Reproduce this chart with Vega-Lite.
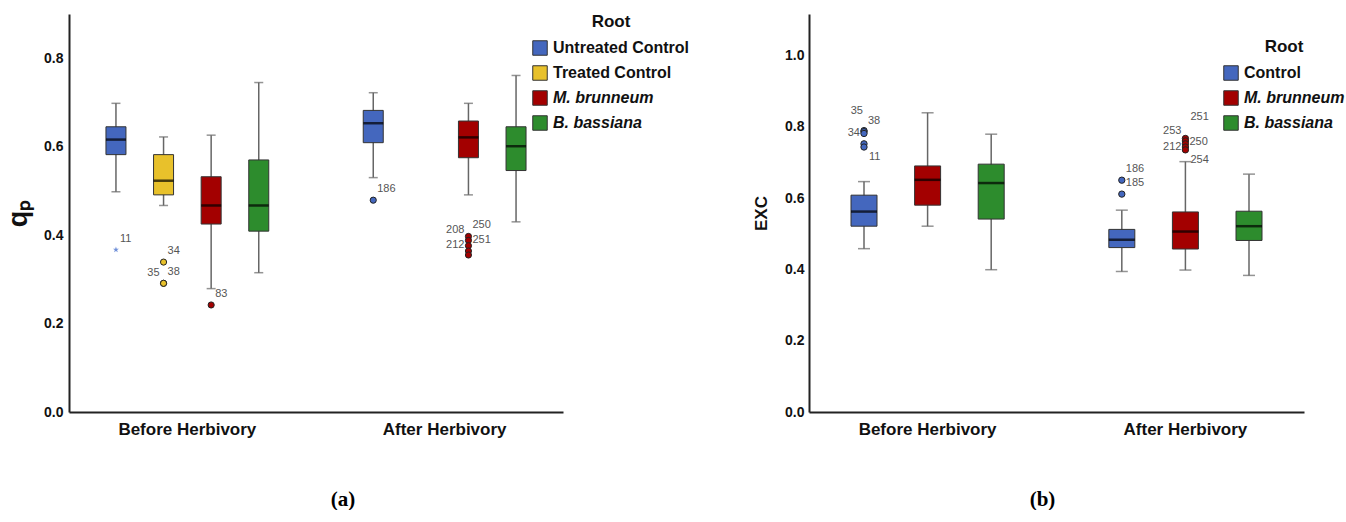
{
  "$schema": "https://vega.github.io/schema/vega-lite/v6.json",
  "padding": {"left": 4, "top": 14, "right": 0, "bottom": 0},
  "spacing": 246,
  "bounds": "flush",
  "background": "white",
  "config": {
    "view": {"stroke": null},
    "font": "Liberation Sans",
    "axis": {"grid": false, "ticks": false, "domainColor": "#222", "domainWidth": 2, "labelFont": "Liberation Sans", "labelFontWeight": "bold", "labelColor": "#111", "titleColor": "#111"},
    "legend": {"titleFont": "Liberation Sans", "labelFont": "Liberation Sans"}
  },
  "resolve": {"scale": {"color": "independent", "fill": "independent", "x": "independent", "y": "independent", "xOffset": "independent"}, "legend": {"color": "independent"}},
  "datasets": {
    "boxA": [
      {"time": "Before Herbivory", "root": "Untreated Control", "lo": 0.498, "q1": 0.582, "med": 0.616, "q3": 0.645, "hi": 0.698},
      {"time": "Before Herbivory", "root": "Treated Control", "lo": 0.467, "q1": 0.491, "med": 0.523, "q3": 0.582, "hi": 0.622},
      {"time": "Before Herbivory", "root": "M. brunneum", "lo": 0.279, "q1": 0.425, "med": 0.467, "q3": 0.532, "hi": 0.626},
      {"time": "Before Herbivory", "root": "B. bassiana", "lo": 0.315, "q1": 0.409, "med": 0.467, "q3": 0.570, "hi": 0.745},
      {"time": "After Herbivory", "root": "Untreated Control", "lo": 0.530, "q1": 0.609, "med": 0.653, "q3": 0.682, "hi": 0.722},
      {"time": "After Herbivory", "root": "M. brunneum", "lo": 0.491, "q1": 0.575, "med": 0.621, "q3": 0.658, "hi": 0.698},
      {"time": "After Herbivory", "root": "B. bassiana", "lo": 0.430, "q1": 0.546, "med": 0.601, "q3": 0.645, "hi": 0.761}
    ],
    "outA": [
      {"time": "Before Herbivory", "root": "Untreated Control", "value": 0.367, "kind": "extreme", "label": "11", "pos": "ur"},
      {"time": "Before Herbivory", "root": "Treated Control", "value": 0.339, "kind": "outlier", "label": "34", "pos": "ur"},
      {"time": "Before Herbivory", "root": "Treated Control", "value": 0.291, "kind": "outlier", "label": "38", "pos": "ur"},
      {"time": "Before Herbivory", "root": "Treated Control", "value": 0.291, "kind": "outlier", "label": "35", "pos": "ul"},
      {"time": "Before Herbivory", "root": "M. brunneum", "value": 0.242, "kind": "outlier", "label": "83", "pos": "ur"},
      {"time": "After Herbivory", "root": "Untreated Control", "value": 0.479, "kind": "outlier", "label": "186", "pos": "ur"},
      {"time": "After Herbivory", "root": "M. brunneum", "value": 0.397, "kind": "outlier", "label": "250", "pos": "ur"},
      {"time": "After Herbivory", "root": "M. brunneum", "value": 0.388, "kind": "outlier", "label": "208", "pos": "ul"},
      {"time": "After Herbivory", "root": "M. brunneum", "value": 0.376, "kind": "outlier", "label": "", "pos": "none"},
      {"time": "After Herbivory", "root": "M. brunneum", "value": 0.364, "kind": "outlier", "label": "251", "pos": "ur"},
      {"time": "After Herbivory", "root": "M. brunneum", "value": 0.355, "kind": "outlier", "label": "212", "pos": "ul"}
    ],
    "boxB": [
      {"time": "Before Herbivory", "root": "Control", "lo": 0.458, "q1": 0.521, "med": 0.562, "q3": 0.608, "hi": 0.646},
      {"time": "Before Herbivory", "root": "M. brunneum", "lo": 0.521, "q1": 0.580, "med": 0.651, "q3": 0.690, "hi": 0.839},
      {"time": "Before Herbivory", "root": "B. bassiana", "lo": 0.399, "q1": 0.541, "med": 0.642, "q3": 0.695, "hi": 0.779},
      {"time": "After Herbivory", "root": "Control", "lo": 0.394, "q1": 0.461, "med": 0.483, "q3": 0.512, "hi": 0.566},
      {"time": "After Herbivory", "root": "M. brunneum", "lo": 0.398, "q1": 0.457, "med": 0.506, "q3": 0.561, "hi": 0.702},
      {"time": "After Herbivory", "root": "B. bassiana", "lo": 0.383, "q1": 0.481, "med": 0.521, "q3": 0.563, "hi": 0.667}
    ],
    "outB": [
      {"time": "Before Herbivory", "root": "Control", "value": 0.789, "kind": "outlier", "label": "35", "pos": "uul"},
      {"time": "Before Herbivory", "root": "Control", "value": 0.786, "kind": "outlier", "label": "38", "pos": "ur"},
      {"time": "Before Herbivory", "root": "Control", "value": 0.781, "kind": "outlier", "label": "34", "pos": "l"},
      {"time": "Before Herbivory", "root": "Control", "value": 0.752, "kind": "outlier", "label": "", "pos": "none"},
      {"time": "Before Herbivory", "root": "Control", "value": 0.743, "kind": "outlier", "label": "11", "pos": "lr"},
      {"time": "After Herbivory", "root": "Control", "value": 0.650, "kind": "outlier", "label": "186", "pos": "ur"},
      {"time": "After Herbivory", "root": "Control", "value": 0.611, "kind": "outlier", "label": "185", "pos": "ur"},
      {"time": "After Herbivory", "root": "M. brunneum", "value": 0.767, "kind": "outlier", "label": "251", "pos": "uur"},
      {"time": "After Herbivory", "root": "M. brunneum", "value": 0.760, "kind": "outlier", "label": "253", "pos": "ul"},
      {"time": "After Herbivory", "root": "M. brunneum", "value": 0.752, "kind": "outlier", "label": "250", "pos": "r"},
      {"time": "After Herbivory", "root": "M. brunneum", "value": 0.743, "kind": "outlier", "label": "212", "pos": "l"},
      {"time": "After Herbivory", "root": "M. brunneum", "value": 0.735, "kind": "outlier", "label": "254", "pos": "lr"}
    ]
  },
  "hconcat": [
    {
      "width": 494,
      "height": 398,
      "title": {"text": "(a)", "orient": "bottom", "offset": 52, "dx": 27, "font": "Liberation Serif", "fontSize": 21, "fontWeight": "bold", "color": "#000"},
      "encoding": {
        "x": {"field": "time", "type": "nominal", "scale": {"domain": ["Before Herbivory", "After Herbivory"], "paddingInner": 0.26, "paddingOuter": 0.09}, "axis": {"title": null, "labelAngle": 0, "labelPadding": 9, "labelFontSize": 17}},
        "xOffset": {"field": "root", "type": "nominal", "scale": {"domain": ["Untreated Control", "Treated Control", "M. brunneum", "B. bassiana"], "paddingInner": 0, "paddingOuter": 0}}
      },
      "layer": [
        {
          "data": {"name": "boxA"},
          "mark": {"type": "rule", "color": "#666", "strokeWidth": 1.5},
          "encoding": {
            "y": {"field": "lo", "type": "quantitative", "scale": {"domain": [0, 0.9], "nice": false}, "axis": {"title": "qₚ", "values": [0, 0.2, 0.4, 0.6, 0.8], "format": ".1f", "labelFontSize": 14, "labelPadding": 6, "titleFontSize": 27, "titleFontWeight": "bold", "titlePadding": 11}},
            "y2": {"field": "hi"}
          }
        },
        {
          "data": {"name": "boxA"},
          "mark": {"type": "tick", "orient": "horizontal", "color": "#666", "size": 9, "thickness": 1.5},
          "encoding": {"y": {"field": "lo", "type": "quantitative"}}
        },
        {
          "data": {"name": "boxA"},
          "mark": {"type": "tick", "orient": "horizontal", "color": "#666", "size": 9, "thickness": 1.5},
          "encoding": {"y": {"field": "hi", "type": "quantitative"}}
        },
        {
          "data": {"name": "boxA"},
          "mark": {"type": "bar", "width": 20, "stroke": "#333", "strokeWidth": 1, "opacity": 1},
          "encoding": {
            "y": {"field": "q1", "type": "quantitative"},
            "y2": {"field": "q3"},
            "color": {"field": "root", "type": "nominal", "scale": {"domain": ["Untreated Control", "Treated Control", "M. brunneum", "B. bassiana"], "range": ["#4467BE", "#E8C12B", "#A30000", "#2D8C2D"]},
              "legend": {"title": "Root", "orient": "none", "legendX": 463, "legendY": 0, "titleAnchor": "middle", "titleFontSize": 17, "titleFontWeight": "bold", "titleColor": "#111", "titlePadding": 9, "labelFontSize": 16, "labelFontWeight": "bold", "labelColor": "#111", "symbolType": "square", "symbolSize": 210, "symbolStrokeColor": "#333", "symbolStrokeWidth": 1, "symbolOpacity": 1, "rowPadding": 5, "labelOffset": 5,
                "encode": {"labels": {"update": {"fontStyle": {"signal": "indexof(['M. brunneum','B. bassiana'], datum.label) >= 0 ? 'italic' : 'normal'"}}}}}}
          }
        },
        {
          "data": {"name": "boxA"},
          "mark": {"type": "tick", "orient": "horizontal", "color": "#000", "size": 20, "thickness": 2.5},
          "encoding": {"y": {"field": "med", "type": "quantitative"}}
        },
        {
          "data": {"name": "outA"},
          "transform": [{"filter": "datum.kind === 'outlier'"}],
          "mark": {"type": "point", "filled": true, "size": 38, "stroke": "#222", "strokeWidth": 1, "opacity": 1},
          "encoding": {
            "y": {"field": "value", "type": "quantitative"},
            "fill": {"field": "root", "type": "nominal", "scale": {"domain": ["Untreated Control", "Treated Control", "M. brunneum", "B. bassiana"], "range": ["#4467BE", "#E8C12B", "#A30000", "#2D8C2D"]}, "legend": null}
          }
        },
        {
          "data": {"name": "outA"},
          "transform": [{"filter": "datum.kind === 'extreme'"}],
          "mark": {"type": "point", "filled": true, "size": 40, "color": "#6F8FD8", "opacity": 1, "shape": "M0,-1L0.22,-0.31L0.95,-0.31L0.36,0.12L0.59,0.81L0,0.38L-0.59,0.81L-0.36,0.12L-0.95,-0.31L-0.22,-0.31Z"},
          "encoding": {"y": {"field": "value", "type": "quantitative"}}
        },
        {
          "data": {"name": "outA"},
          "transform": [{"filter": "datum.pos === 'ur'"}],
          "mark": {"type": "text", "align": "left", "baseline": "middle", "dx": 4, "dy": -11, "fontSize": 11, "font": "Liberation Sans Narrow, Liberation Sans", "color": "#555"},
          "encoding": {"y": {"field": "value", "type": "quantitative"}, "text": {"field": "label"}}
        },
        {
          "data": {"name": "outA"},
          "transform": [{"filter": "datum.pos === 'ul'"}],
          "mark": {"type": "text", "align": "right", "baseline": "middle", "dx": -4, "dy": -10, "fontSize": 11, "font": "Liberation Sans Narrow, Liberation Sans", "color": "#555"},
          "encoding": {"y": {"field": "value", "type": "quantitative"}, "text": {"field": "label"}}
        }
      ]
    },
    {
      "width": 495,
      "height": 398,
      "title": {"text": "(b)", "orient": "bottom", "offset": 52, "dx": -14, "font": "Liberation Serif", "fontSize": 21, "fontWeight": "bold", "color": "#000"},
      "encoding": {
        "x": {"field": "time", "type": "nominal", "scale": {"domain": ["Before Herbivory", "After Herbivory"], "paddingInner": 0.26, "paddingOuter": 0.09}, "axis": {"title": null, "labelAngle": 0, "labelPadding": 9, "labelFontSize": 17}},
        "xOffset": {"field": "root", "type": "nominal", "scale": {"domain": ["Control", "M. brunneum", "B. bassiana"], "paddingInner": 0, "paddingOuter": 0}}
      },
      "layer": [
        {
          "data": {"name": "boxB"},
          "mark": {"type": "rule", "color": "#666", "strokeWidth": 1.5},
          "encoding": {
            "y": {"field": "lo", "type": "quantitative", "scale": {"domain": [0, 1.116], "nice": false}, "axis": {"title": "EXC", "values": [0, 0.2, 0.4, 0.6, 0.8, 1.0], "format": ".1f", "labelFontSize": 14, "labelPadding": 5, "titleFontSize": 17, "titleFontWeight": "bold", "titlePadding": 14}},
            "y2": {"field": "hi"}
          }
        },
        {
          "data": {"name": "boxB"},
          "mark": {"type": "tick", "orient": "horizontal", "color": "#666", "size": 12, "thickness": 1.5},
          "encoding": {"y": {"field": "lo", "type": "quantitative"}}
        },
        {
          "data": {"name": "boxB"},
          "mark": {"type": "tick", "orient": "horizontal", "color": "#666", "size": 12, "thickness": 1.5},
          "encoding": {"y": {"field": "hi", "type": "quantitative"}}
        },
        {
          "data": {"name": "boxB"},
          "mark": {"type": "bar", "width": 26, "stroke": "#333", "strokeWidth": 1, "opacity": 1},
          "encoding": {
            "y": {"field": "q1", "type": "quantitative"},
            "y2": {"field": "q3"},
            "color": {"field": "root", "type": "nominal", "scale": {"domain": ["Control", "M. brunneum", "B. bassiana"], "range": ["#4467BE", "#A30000", "#2D8C2D"]},
              "legend": {"title": "Root", "orient": "none", "legendX": 414, "legendY": 25, "titleAnchor": "middle", "titleFontSize": 17, "titleFontWeight": "bold", "titleColor": "#111", "titlePadding": 9, "labelFontSize": 16, "labelFontWeight": "bold", "labelColor": "#111", "symbolType": "square", "symbolSize": 210, "symbolStrokeColor": "#333", "symbolStrokeWidth": 1, "symbolOpacity": 1, "rowPadding": 5, "labelOffset": 5,
                "encode": {"labels": {"update": {"fontStyle": {"signal": "indexof(['M. brunneum','B. bassiana'], datum.label) >= 0 ? 'italic' : 'normal'"}}}}}}
          }
        },
        {
          "data": {"name": "boxB"},
          "mark": {"type": "tick", "orient": "horizontal", "color": "#000", "size": 26, "thickness": 2.5},
          "encoding": {"y": {"field": "med", "type": "quantitative"}}
        },
        {
          "data": {"name": "outB"},
          "mark": {"type": "point", "filled": true, "size": 40, "stroke": "#222", "strokeWidth": 1, "opacity": 1},
          "encoding": {
            "y": {"field": "value", "type": "quantitative"},
            "fill": {"field": "root", "type": "nominal", "scale": {"domain": ["Control", "M. brunneum", "B. bassiana"], "range": ["#4467BE", "#A30000", "#2D8C2D"]}, "legend": null}
          }
        },
        {
          "data": {"name": "outB"},
          "transform": [{"filter": "datum.pos === 'ur'"}],
          "mark": {"type": "text", "align": "left", "baseline": "middle", "dx": 4, "dy": -11, "fontSize": 11, "font": "Liberation Sans Narrow, Liberation Sans", "color": "#555"},
          "encoding": {"y": {"field": "value", "type": "quantitative"}, "text": {"field": "label"}}
        },
        {
          "data": {"name": "outB"},
          "transform": [{"filter": "datum.pos === 'uur'"}],
          "mark": {"type": "text", "align": "left", "baseline": "middle", "dx": 5, "dy": -21, "fontSize": 11, "font": "Liberation Sans Narrow, Liberation Sans", "color": "#555"},
          "encoding": {"y": {"field": "value", "type": "quantitative"}, "text": {"field": "label"}}
        },
        {
          "data": {"name": "outB"},
          "transform": [{"filter": "datum.pos === 'ul'"}],
          "mark": {"type": "text", "align": "right", "baseline": "middle", "dx": -4, "dy": -10, "fontSize": 11, "font": "Liberation Sans Narrow, Liberation Sans", "color": "#555"},
          "encoding": {"y": {"field": "value", "type": "quantitative"}, "text": {"field": "label"}}
        },
        {
          "data": {"name": "outB"},
          "transform": [{"filter": "datum.pos === 'uul'"}],
          "mark": {"type": "text", "align": "right", "baseline": "middle", "dx": -1, "dy": -20, "fontSize": 11, "font": "Liberation Sans Narrow, Liberation Sans", "color": "#555"},
          "encoding": {"y": {"field": "value", "type": "quantitative"}, "text": {"field": "label"}}
        },
        {
          "data": {"name": "outB"},
          "transform": [{"filter": "datum.pos === 'r'"}],
          "mark": {"type": "text", "align": "left", "baseline": "middle", "dx": 4, "dy": -2, "fontSize": 11, "font": "Liberation Sans Narrow, Liberation Sans", "color": "#555"},
          "encoding": {"y": {"field": "value", "type": "quantitative"}, "text": {"field": "label"}}
        },
        {
          "data": {"name": "outB"},
          "transform": [{"filter": "datum.pos === 'l'"}],
          "mark": {"type": "text", "align": "right", "baseline": "middle", "dx": -4, "dy": 0, "fontSize": 11, "font": "Liberation Sans Narrow, Liberation Sans", "color": "#555"},
          "encoding": {"y": {"field": "value", "type": "quantitative"}, "text": {"field": "label"}}
        },
        {
          "data": {"name": "outB"},
          "transform": [{"filter": "datum.pos === 'lr'"}],
          "mark": {"type": "text", "align": "left", "baseline": "middle", "dx": 5, "dy": 10, "fontSize": 11, "font": "Liberation Sans Narrow, Liberation Sans", "color": "#555"},
          "encoding": {"y": {"field": "value", "type": "quantitative"}, "text": {"field": "label"}}
        }
      ]
    }
  ]
}
